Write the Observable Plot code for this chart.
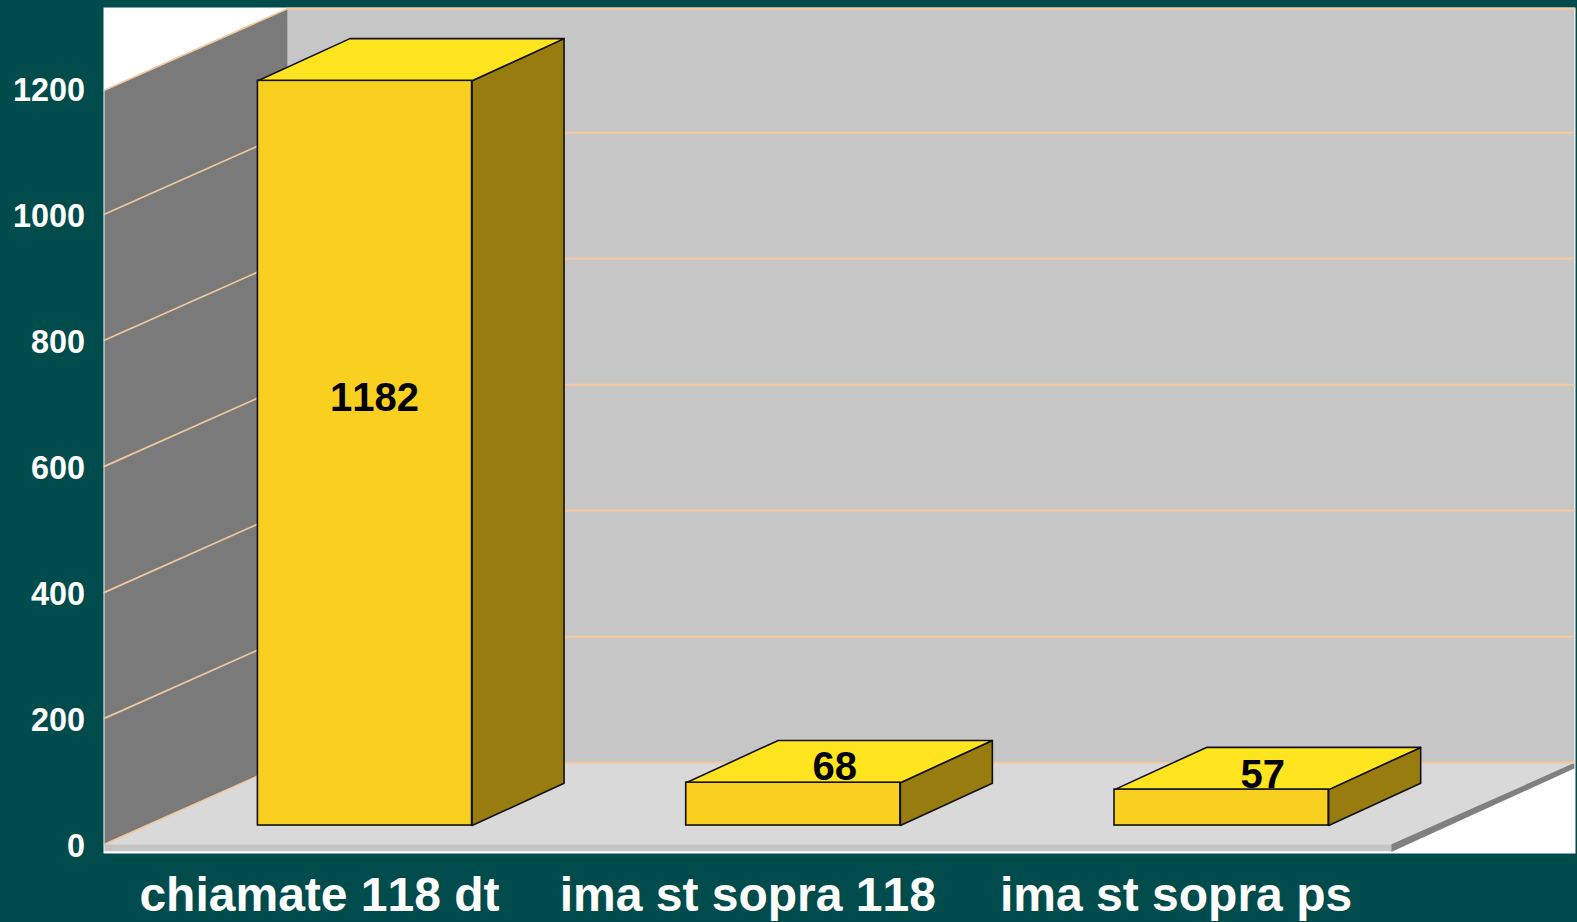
<!DOCTYPE html>
<html>
<head>
<meta charset="utf-8">
<script src="https://cdn.jsdelivr.net/npm/d3@7"></script>
<script src="https://cdn.jsdelivr.net/npm/@observablehq/plot@0.6"></script>
<style>
html,body{margin:0;padding:0;background:#004b4b;}
svg{display:block;}
svg text{font-kerning:none;}
</style>
</head>
<body>
<div id="chart"></div>
<script>
const categories = ["chiamate 118 dt", "ima st sopra 118", "ima st sopra ps"];
const values = [1182, 68, 57];
const yTicks = [0, 200, 400, 600, 800, 1000, 1200];

// value-label anchors, in chart units
const labelCat = [0.022, 1.097, 2.096];
const labelVal = [678, 92, 80];

// 3D projection, in chart units
const barHalf = 0.25;
const depthX = 0.2148, depthY = 65, barDepthY = 67;
const wallLeft = -0.5095, wallRight = 2.495, wallTop = 1197;
const depthFront = -0.46, depthBack = 1.53;
const P = (c, v, d) => ({x: c + d * depthX, y: v + d * depthY});
const B = (c, v, d) => ({x: c + d * depthX, y: v + d * barDepthY});

const polygon = (pts, fill, extra = {}) =>
  Plot.line([...pts, pts[0]], {x: "x", y: "y", fill, stroke: "none", ...extra});

const rows = categories.map((name, i) => ({name, i, value: values[i]}));

const face = (fn) => rows.flatMap(r => {
  const pts = fn(r);
  return [...pts, pts[0]].map(p => ({...p, i: r.i}));
});
const topFaces = face(r => [
  B(r.i - barHalf, r.value, 0), B(r.i + barHalf, r.value, 0),
  B(r.i + barHalf, r.value, 1), B(r.i - barHalf, r.value, 1)
]);
const sideFaces = face(r => [
  B(r.i + barHalf, 0, 0), B(r.i + barHalf, r.value, 0),
  B(r.i + barHalf, r.value, 1), B(r.i + barHalf, 0, 1)
]);

const gridLevels = yTicks.map(v => Math.min(v, wallTop));
const gridLeft = gridLevels.flatMap(v => [
  {...P(wallLeft, v, depthFront), v}, {...P(wallLeft, v, depthBack), v}
]);
const gridBack = gridLevels.flatMap(v => [
  {...P(wallLeft, v, depthBack), v}, {...P(wallRight, v, depthBack), v}
]);

const chart = Plot.plot({
  width: 1577,
  height: 922,
  marginLeft: 103,
  marginRight: 2,
  marginTop: 7,
  marginBottom: 69,
  style: {background: "#004b4b", fontFamily: "'Liberation Sans', Arial, sans-serif"},
  x: {domain: [-0.6105, 2.8263], axis: null},
  y: {domain: [-44.4, 1298.4], axis: null},
  marks: [
    Plot.frame({fill: "#ffffff", stroke: "none"}),
    // back wall, left wall, floor and its edges
    polygon([P(wallLeft, 0, depthBack), P(wallRight, 0, depthBack), P(wallRight, wallTop, depthBack), P(wallLeft, wallTop, depthBack)], "#c6c6c6"),
    polygon([P(wallLeft, 0, depthFront), P(wallLeft, 0, depthBack), P(wallLeft, wallTop, depthBack), P(wallLeft, wallTop, depthFront)], "#7a7a7a"),
    polygon([P(wallLeft, 0, depthFront), P(wallLeft, 0, depthBack), P(wallRight, 0, depthBack), P(wallRight, 0, depthFront)], "#d9d9d9"),
    polygon([P(wallLeft, 0, depthFront), P(wallRight, 0, depthFront), P(wallRight, -11, depthFront), P(wallLeft, -11, depthFront)], "#c4c4c4"),
    polygon([P(wallRight, 0, depthFront), P(wallRight, 0, depthBack), P(wallRight, -9, depthBack), P(wallRight, -12, depthFront)], "#808080"),
    // gridlines
    Plot.line(gridLeft, {x: "x", y: "y", z: "v", stroke: "#f2c79c", strokeWidth: 1.7}),
    Plot.line(gridBack, {x: "x", y: "y", z: "v", stroke: "#f4c9a0", strokeWidth: 2}),
    // bars
    Plot.line(sideFaces, {x: "x", y: "y", z: "i", fill: "#997c10", stroke: "#111", strokeWidth: 1.6}),
    Plot.line(topFaces, {x: "x", y: "y", z: "i", fill: "#ffe420", stroke: "#111", strokeWidth: 1.6}),
    Plot.rect(rows, {
      x1: d => d.i - barHalf, x2: d => d.i + barHalf,
      y1: 0, y2: "value",
      fill: "#f9cf20", stroke: "#111", strokeWidth: 1.6
    }),
    Plot.text(rows, {
      x: d => labelCat[d.i], y: d => labelVal[d.i], text: d => String(d.value),
      fontSize: 40, fontWeight: "bold", fill: "#000"
    }),
    // axes
    Plot.axisY({
      ticks: yTicks, tickSize: 0, tickPadding: 18.5, dy: 20.8, label: null,
      tickFormat: d => String(d), fontSize: 32.4, fontWeight: "bold", fill: "#ffffff"
    }),
    Plot.axisX({
      ticks: [0, 1, 2], tickSize: 0, tickPadding: 23, dx: -45.5, label: null,
      tickFormat: i => categories[i], fontSize: 48, fontWeight: "bold", fill: "#ffffff"
    })
  ]
});
document.getElementById("chart").appendChild(chart);
</script>
</body>
</html>
